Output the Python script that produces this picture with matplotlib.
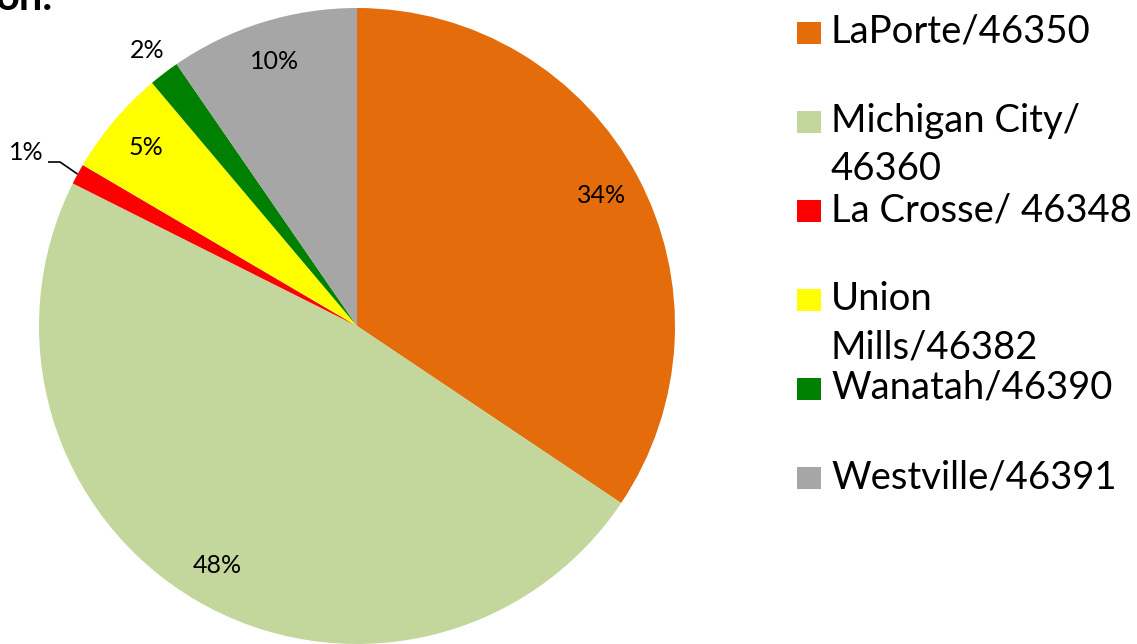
import numpy as np
import matplotlib
matplotlib.use('Agg')
import matplotlib.pyplot as plt
from matplotlib.patches import Rectangle

plt.rcParams['font.family'] = ['Lato', 'DejaVu Sans']

# data (share of total, %)
places = ['LaPorte/46350', 'Michigan City/\n46360', 'La Crosse/ 46348',
          'Union\nMills/46382', 'Wanatah/46390', 'Westville/46391']
shares = [34.4, 48.0, 1.05, 5.4, 1.55, 9.6]
colors = ['#E46C0A', '#C3D69B', '#FF0000', '#FFFF00', '#008000', '#A6A6A6']

W, H = 1137, 644
R = 318.0          # pie radius in px
cx, cy = 357, 326  # pie centre in px (from top-left)

fig = plt.figure(figsize=(W / 100, H / 100), dpi=100)
ax = fig.add_axes([0, 0, 1, 1])

wedges, texts, autotexts = ax.pie(
    shares, colors=colors, startangle=90, counterclock=False,
    autopct=lambda p: '%d%%' % round(p), pctdistance=0.87,
    wedgeprops=dict(linewidth=0), textprops=dict(fontsize=18, color='black'))

ax.set_xlim(-cx / R, (W - cx) / R)
ax.set_ylim(-(H - cy) / R, cy / R)
ax.set_aspect('equal')
ax.axis('off')

def mid_angle(w):
    return np.deg2rad((w.theta1 + w.theta2) / 2)

# 2% sits just outside its slice
a = mid_angle(wedges[4])
autotexts[4].set_position((1.09 * np.cos(a), 1.09 * np.sin(a)))

# 1% goes out to the left with a leader line
a = mid_angle(wedges[2])
autotexts[2].set_position(((44 - cx) / R, (cy - 152) / R))
autotexts[2].set_ha('right')
tip = (np.cos(a), np.sin(a))
elbow = ((60 - cx) / R, (cy - 162) / R)
start = ((48 - cx) / R, (cy - 162) / R)
ax.plot([tip[0], elbow[0], start[0]], [tip[1], elbow[1], start[1]],
        color='black', lw=1.2, solid_capstyle='butt')

# legend drawn by hand, one text per line so the first line sits by the box
for i, (lab, col) in enumerate(zip(places, colors)):
    ytop = 22 + 89.0 * i
    fig.patches.append(Rectangle((797 / W, 1 - (ytop + 22) / H), 24 / W, 22 / H,
                                 transform=fig.transFigure, facecolor=col,
                                 edgecolor='none'))
    for j, line in enumerate(lab.split('\n')):
        fig.text(831 / W, 1 - (ytop + 21 + 48 * j) / H, line, fontsize=27.5,
                 va='baseline', ha='left')

# cut-off title remnant at the top
fig.text(-4 / W, 1 - 10 / H, 'on.', fontsize=30, fontweight='bold',
         va='baseline', ha='left')

fig.savefig('out.png', dpi=100)
